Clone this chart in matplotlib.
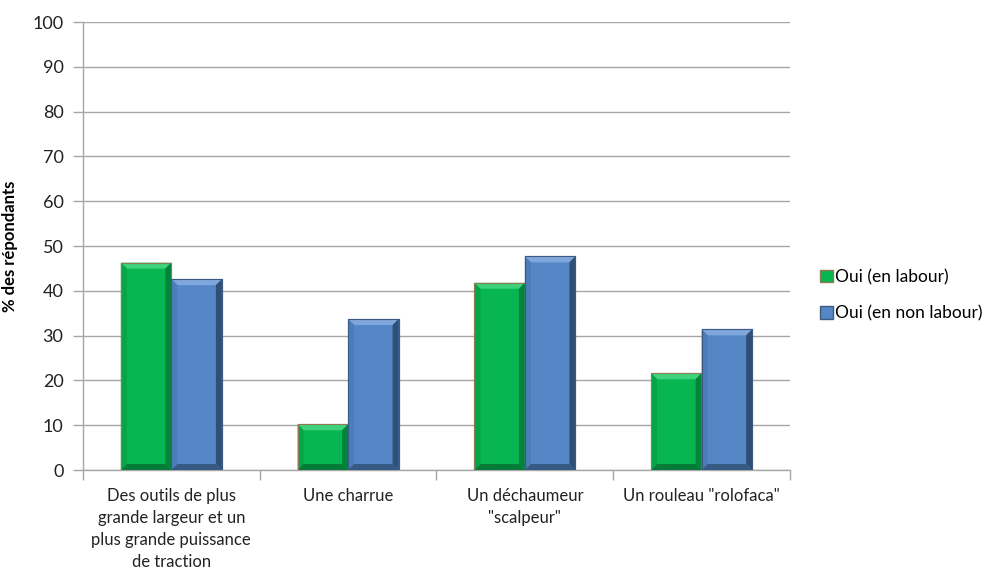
import matplotlib
matplotlib.use("Agg")
import matplotlib.pyplot as plt
from matplotlib.patches import Polygon, Patch
import numpy as np

plt.rcParams['font.family'] = ['Lato', 'DejaVu Sans']

categories = [
    "Des outils de plus\ngrande largeur et un\nplus grande puissance\nde traction",
    "Une charrue",
    "Un déchaumeur\n\"scalpeur\"",
    "Un rouleau \"rolofaca\"",
]
series_names = ["Oui (en labour)", "Oui (en non labour)"]
labour = [46.3, 10.2, 41.8, 21.6]
non_labour = [42.6, 33.7, 47.7, 31.4]
y_ticks = list(range(0, 101, 10))

# face, top bevel, left bevel, right bevel, bottom bevel, outline
styles = [
    dict(face="#07B551", top="#3FD27C", left="#05A64A", right="#02843C", bottom="#037C38", edge="#8C7B57"),
    dict(face="#5587C6", top="#80A7DB", left="#4C7DBB", right="#304F76", bottom="#365A84", edge="#3B5A80"),
]

W, H, DPI = 989, 572, 100
fig = plt.figure(figsize=(W / DPI, H / DPI), dpi=DPI)
ax = fig.add_axes([0.0839, 0.1783, 0.7149, 0.7832])

n = len(categories)
x = np.arange(n)
bw = 1 / 3.5
ax.set_xlim(-0.5, n - 0.5)
ax.set_ylim(0, 100)

ax_w_px = 0.7149 * W
ax_h_px = 0.7832 * H
bev_px = 6
dx = bev_px * n / ax_w_px
dy = bev_px * 100 / ax_h_px

for si, (vals, st) in enumerate(zip([labour, non_labour], styles)):
    offs = (si - 0.5) * bw
    bars = ax.bar(x + offs, vals, width=bw, color=st["face"], edgecolor=st["edge"],
                  linewidth=0.8, zorder=3)
    for b in bars:
        x0, x1 = b.get_x(), b.get_x() + b.get_width()
        y0, y1 = 0, b.get_height()
        d_y = min(dy, (y1 - y0) / 2.2)
        pieces = [
            ([(x0, y1), (x1, y1), (x1 - dx, y1 - d_y), (x0 + dx, y1 - d_y)], st["top"]),
            ([(x0, y0), (x0, y1), (x0 + dx, y1 - d_y), (x0 + dx, y0 + d_y)], st["left"]),
            ([(x1, y0), (x1, y1), (x1 - dx, y1 - d_y), (x1 - dx, y0 + d_y)], st["right"]),
            ([(x0, y0), (x1, y0), (x1 - dx, y0 + d_y), (x0 + dx, y0 + d_y)], st["bottom"]),
        ]
        for pts, c in pieces:
            ax.add_patch(Polygon(pts, closed=True, facecolor=c, edgecolor="none", zorder=3.5))
        ax.add_patch(plt.Rectangle((x0, y0), x1 - x0, y1 - y0, fill=False,
                                   edgecolor=st["edge"], linewidth=0.8, zorder=4))

ax.set_yticks(y_ticks)
ax.yaxis.grid(True, color="#A6A6A6", linewidth=1.0, zorder=0)
ax.set_axisbelow(True)
for s in ["top", "right"]:
    ax.spines[s].set_visible(False)
for s in ["left", "bottom"]:
    ax.spines[s].set_color("#A6A6A6")
    ax.spines[s].set_linewidth(1.0)

ax.set_xticks(np.arange(-0.5, n + 0.5, 1), minor=False)
ax.set_xticklabels([])
ax.set_xticks(x, minor=True)
ax.set_xticklabels(categories, minor=True, fontsize=12, color="#222222", linespacing=1.47)
ax.tick_params(axis="x", which="major", direction="out", length=7, color="#A6A6A6", width=1)
ax.tick_params(axis="x", which="minor", length=0, pad=13)
ax.tick_params(axis="y", direction="out", length=7, color="#A6A6A6", width=1,
               labelsize=13, labelcolor="#222222", pad=7)

ax.set_ylabel("% des répondants", fontsize=12, fontweight="bold")
ax.yaxis.set_label_coords(-0.092, 0.5)

handles = [Patch(facecolor=st["face"], edgecolor=st["edge"]) for st in styles]
fig.legend(handles, series_names, loc="center left", bbox_to_anchor=(0.813, 0.484),
           frameon=False, fontsize=12.5, handlelength=0.75, handleheight=0.75,
           handletextpad=0.15, labelspacing=1.15)

fig.savefig("out.png", dpi=DPI)
